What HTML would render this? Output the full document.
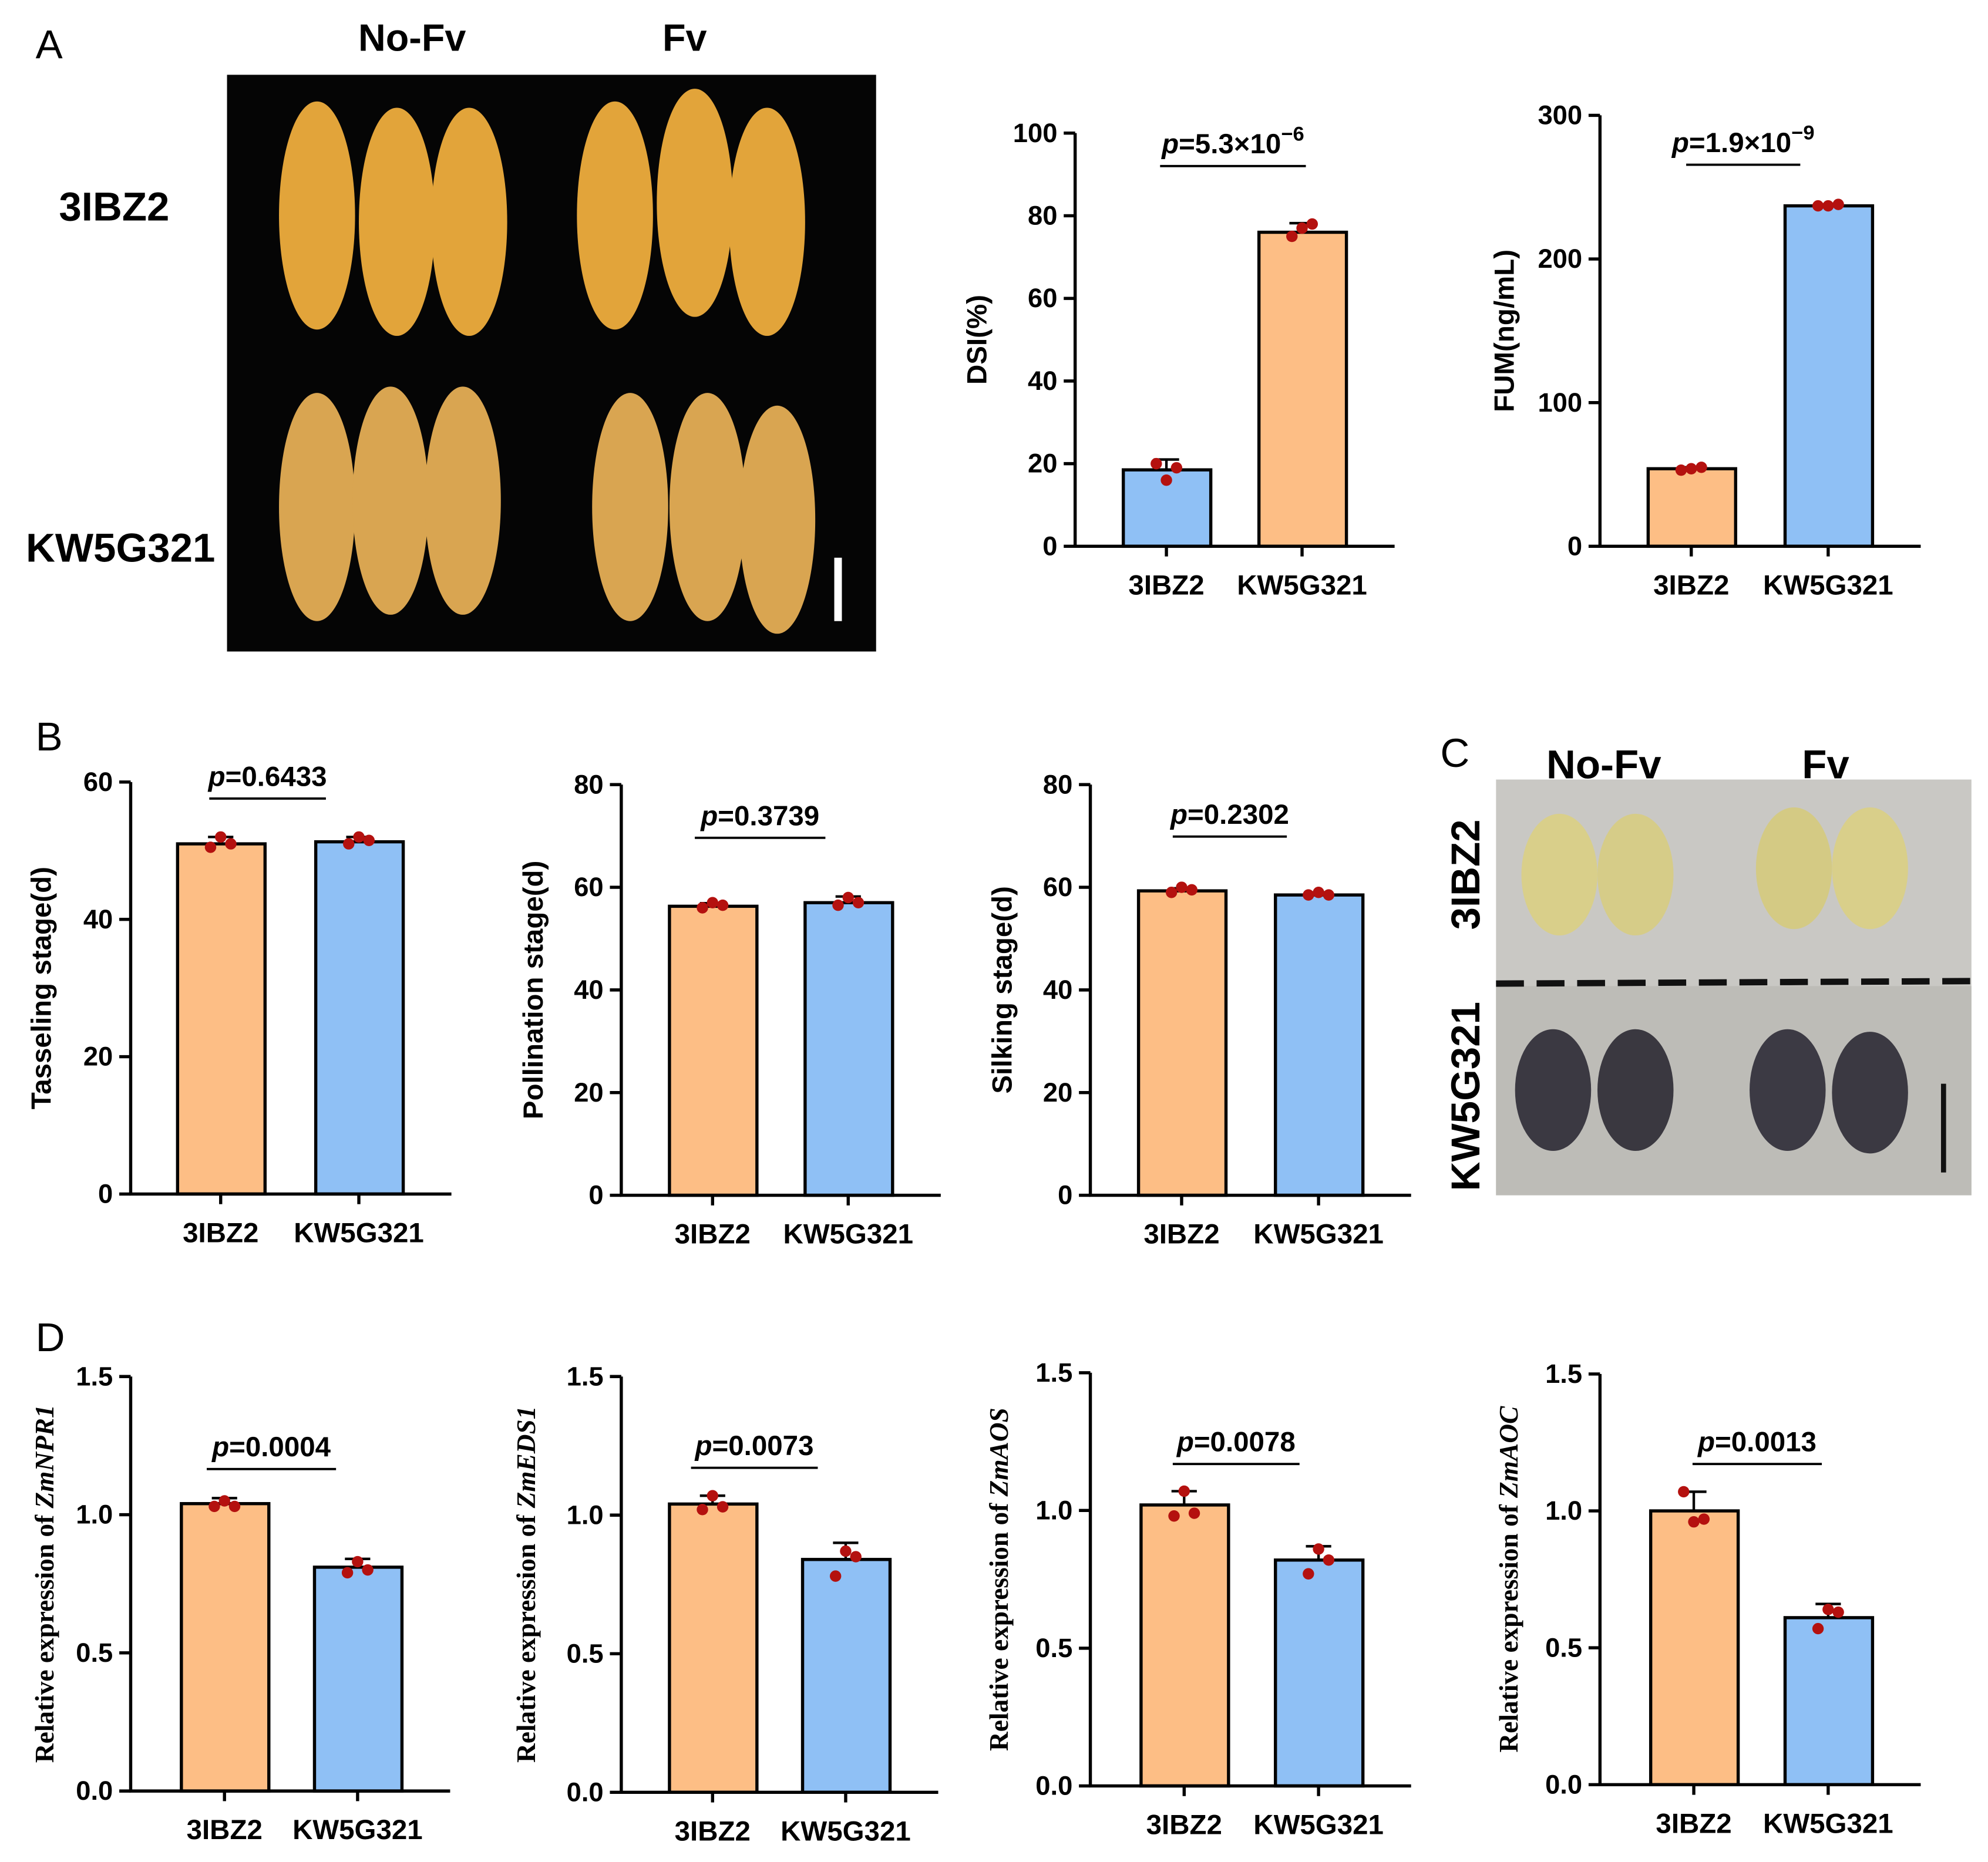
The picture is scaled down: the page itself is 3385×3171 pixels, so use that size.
<!DOCTYPE html>
<html><head><meta charset="utf-8"><style>
html,body{margin:0;padding:0;background:#fff}
svg{display:block}
text{font-family:"Liberation Sans",Arial,sans-serif;font-weight:bold;fill:#000}
.serif{font-family:"Liberation Serif","Times New Roman",serif}
</style></head><body>
<svg id="fig" width="3385" height="3171" viewBox="0 0 1568 1469" xmlns="http://www.w3.org/2000/svg">
<g id="photoA">
<rect x="179" y="59" width="512" height="455" fill="#050505"/>
</g>
<g id="photoC">
<rect x="1180" y="615" width="375" height="328" fill="#c9c8c4"/>
<rect x="1180" y="778" width="375" height="165" fill="#bdbcb7"/>
<line x1="1180" y1="776" x2="1558" y2="774" stroke="#111" stroke-width="5" stroke-dasharray="22,10"/>
<rect x="1531" y="855" width="4" height="70" fill="#111"/>
</g>
<g id="labels">
<text x="28" y="46" font-size="32" style="font-weight:normal">A</text>
<text x="28" y="592" font-size="32" style="font-weight:normal">B</text>
<text x="1136" y="605" font-size="32" style="font-weight:normal">C</text>
<text x="28" y="1066" font-size="32" style="font-weight:normal">D</text>
<text x="325" y="40" font-size="30" text-anchor="middle">No-Fv</text>
<text x="540" y="40" font-size="30" text-anchor="middle">Fv</text>
<text x="90" y="174" font-size="32" text-anchor="middle">3IBZ2</text>
<text x="95" y="443" font-size="32" text-anchor="middle">KW5G321</text>
<text x="1265" y="614" font-size="32" text-anchor="middle">No-Fv</text>
<text x="1440" y="614" font-size="32" text-anchor="middle">Fv</text>
<text transform="translate(1167,690) rotate(-90)" font-size="32" text-anchor="middle">3IBZ2</text>
<text transform="translate(1167,865) rotate(-90)" font-size="32" text-anchor="middle">KW5G321</text>
</g>
</svg>
<script>
const NS="http://www.w3.org/2000/svg";
const svg=document.getElementById('fig');
function mk(tag,attrs,parent){const e=document.createElementNS(NS,tag);for(const k in attrs)e.setAttribute(k,attrs[k]);parent.appendChild(e);return e;}

const categories=["3IBZ2","KW5G321"];
// DSI
const dsiMeans=[18.5,76];const dsiErr=[2.5,2.2];const dsiPoints=[[20,16,19],[75,77,78]];const dsiTicks=[0,20,40,60,80,100];
// FUM
const fumMeans=[54,237];const fumErr=[1,1];const fumPoints=[[53,54,55],[237,237,238]];const fumTicks=[0,100,200,300];
// B
const tasMeans=[51,51.3];const tasErr=[1,0.7];const tasPoints=[[50.5,52,51],[51,52,51.5]];const tasTicks=[0,20,40,60];
const polMeans=[56.3,57];const polErr=[0.6,1.2];const polPoints=[[56,57,56.5],[56.5,58,57]];const bTicks=[0,20,40,60,80];
const silMeans=[59.3,58.5];const silErr=[0.5,0.5];const silPoints=[[59,60,59.5],[58.5,59,58.5]];
// D
const npr1Means=[1.04,0.81];const npr1Err=[0.02,0.03];const npr1Points=[[1.03,1.05,1.03],[0.79,0.83,0.8]];
const eds1Means=[1.04,0.84];const eds1Err=[0.03,0.06];const eds1Points=[[1.02,1.07,1.03],[0.78,0.87,0.85]];
const aosMeans=[1.02,0.82];const aosErr=[0.05,0.05];const aosPoints=[[0.98,1.07,0.99],[0.77,0.86,0.82]];
const aocMeans=[1.0,0.61];const aocErr=[0.07,0.05];const aocPoints=[[1.07,0.96,0.97],[0.57,0.64,0.63]];
const dTicks=[0,0.5,1.0,1.5];

const ORANGE="#fdbe85",BLUE="#8fc0f5";
function chart(o){
  const g=mk('g',{},svg);
  
  
  const max=o.ticks[o.ticks.length-1];
  const y=v=>o.y0-(v/max)*(o.y0-o.y1);
  const xc=i=>o.bx[i]+34;
  o.means.forEach((m,i)=>{
    const r=mk('rect',{x:o.bx[i],y:y(m),width:69,height:o.y0-y(m),fill:o.colors[i],stroke:'#000','stroke-width':2.5},g);
    
    
    const t=y(m+o.err[i]);
    const eb=mk('path',{d:`M${xc(i)},${y(m)}V${t}M${xc(i)-10},${t}H${xc(i)+10}`,stroke:'#000','stroke-width':2,fill:'none'},g);
    
    
    o.points[i].forEach((p,j)=>{
      const c=mk('circle',{cx:xc(i)+(j-1)*8,cy:y(p),r:4.5,fill:'#b4110f'},g);
      
      
    });
    const xl=mk('text',{x:xc(i),y:o.y0+38,'font-size':22,'text-anchor':'middle'},g);
    xl.textContent=categories[i];
    
    
    mk('line',{x1:xc(i),x2:xc(i),y1:o.y0,y2:o.y0+8,stroke:'#000','stroke-width':2.5},g);
  });
  mk('line',{x1:o.ax,x2:o.ax,y1:o.y1,y2:o.y0+1,stroke:'#000','stroke-width':2.5},g);
  mk('line',{x1:o.ax-1,x2:o.bx[1]+107,y1:o.y0,y2:o.y0,stroke:'#000','stroke-width':2.5},g);
  o.ticks.forEach(t=>{
    mk('line',{x1:o.ax-9,x2:o.ax,y1:y(t),y2:y(t),stroke:'#000','stroke-width':2.5},g);
    const tl=mk('text',{x:o.ax-14,y:y(t)+7,'font-size':21,'text-anchor':'end'},g);
    tl.textContent=o.fmt?o.fmt(t):t;
    
    
  });
  const yt=mk('text',{transform:`translate(${o.lx},${(o.y0+o.y1)/2}) rotate(-90)`,'font-size':o.serif?21:22,'text-anchor':'middle'},g);
  if(o.serif)yt.setAttribute('class','serif');
  yt.innerHTML=o.ylabel;
  
  
  mk('line',{x1:o.pb[0],x2:o.pb[1],y1:o.pb[2],y2:o.pb[2],stroke:'#000','stroke-width':1.8},g);
  const pt=mk('text',{x:(o.pb[0]+o.pb[1])/2,y:o.pb[2]-10,'font-size':22,'text-anchor':'middle'},g);
  pt.innerHTML=o.ptext;
  
  
}
const f1=t=>t.toFixed(1);
chart({name:'dsi-chart',ax:848,y0:431,y1:105,bx:[886,993],means:dsiMeans,err:dsiErr,points:dsiPoints,ticks:dsiTicks,colors:[BLUE,ORANGE],lx:778,ylabel:'DSI(%)',pb:[915,1030,131],ptext:'<tspan font-style="italic">p</tspan>=5.3×10<tspan dy="-10" font-size="16">−6</tspan>'});
chart({name:'fum-chart',ax:1262,y0:431,y1:91,bx:[1300,1408],means:fumMeans,err:fumErr,points:fumPoints,ticks:fumTicks,colors:[ORANGE,BLUE],lx:1194,ylabel:'FUM(ng/mL)',pb:[1330,1420,130],ptext:'<tspan font-style="italic">p</tspan>=1.9×10<tspan dy="-10" font-size="16">−9</tspan>'});
chart({name:'tasseling-chart',ax:103,y0:942,y1:617,bx:[140,249],means:tasMeans,err:tasErr,points:tasPoints,ticks:tasTicks,colors:[ORANGE,BLUE],lx:40,ylabel:'Tasseling stage(d)',pb:[165,257,630],ptext:'<tspan font-style="italic">p</tspan>=0.6433'});
chart({name:'pollination-chart',ax:490,y0:943,y1:619,bx:[528,635],means:polMeans,err:polErr,points:polPoints,ticks:bTicks,colors:[ORANGE,BLUE],lx:428,ylabel:'Pollination stage(d)',pb:[548,651,661],ptext:'<tspan font-style="italic">p</tspan>=0.3739'});
chart({name:'silking-chart',ax:860,y0:943,y1:619,bx:[898,1006],means:silMeans,err:silErr,points:silPoints,ticks:bTicks,colors:[ORANGE,BLUE],lx:798,ylabel:'Silking stage(d)',pb:[925,1015,660],ptext:'<tspan font-style="italic">p</tspan>=0.2302'});
chart({name:'zmnpr1-chart',ax:103,y0:1413,y1:1086,bx:[143,248],means:npr1Means,err:npr1Err,points:npr1Points,ticks:dTicks,fmt:f1,colors:[ORANGE,BLUE],lx:42,serif:1,ylabel:'Relative expression of <tspan font-style="italic">ZmNPR1</tspan>',pb:[163,265,1159],ptext:'<tspan font-style="italic">p</tspan>=0.0004'});
chart({name:'zmeds1-chart',ax:490,y0:1414,y1:1086,bx:[528,633],means:eds1Means,err:eds1Err,points:eds1Points,ticks:dTicks,fmt:f1,colors:[ORANGE,BLUE],lx:422,serif:1,ylabel:'Relative expression of <tspan font-style="italic">ZmEDS1</tspan>',pb:[545,645,1158],ptext:'<tspan font-style="italic">p</tspan>=0.0073'});
chart({name:'zmaos-chart',ax:860,y0:1409,y1:1083,bx:[900,1006],means:aosMeans,err:aosErr,points:aosPoints,ticks:dTicks,fmt:f1,colors:[ORANGE,BLUE],lx:795,serif:1,ylabel:'Relative expression of <tspan font-style="italic">ZmAOS</tspan>',pb:[925,1025,1155],ptext:'<tspan font-style="italic">p</tspan>=0.0078'});
chart({name:'zmaoc-chart',ax:1262,y0:1408,y1:1084,bx:[1302,1408],means:aocMeans,err:aocErr,points:aocPoints,ticks:dTicks,fmt:f1,colors:[ORANGE,BLUE],lx:1197,serif:1,ylabel:'Relative expression of <tspan font-style="italic">ZmAOC</tspan>',pb:[1335,1437,1155],ptext:'<tspan font-style="italic">p</tspan>=0.0013'});

// corn ears (decorative photo)
const pa=document.getElementById('photoA');
const ears=[[250,170,true],[313,175,true],[370,175,true],[485,170,true],[548,160,true],[605,175,true],[250,400,false],[308,395,false],[365,395,false],[497,400,false],[558,400,false],[613,410,false]];
ears.forEach(e=>{
  const el=mk('ellipse',{cx:e[0],cy:e[1],rx:30,ry:90,fill:e[2]?'#e2a43a':'#d9a551'},pa);
  
  
});
mk('rect',{x:658,y:440,width:6,height:50,fill:'#fff'},pa);
const pc=document.getElementById('photoC');
[[1230,690,'#d9cf8a'],[1290,690,'#d6cc88'],[1415,685,'#d4ca84'],[1475,685,'#d9cf8a'],[1225,860,'#3b3942'],[1290,860,'#3a3840'],[1410,860,'#3c3a44'],[1475,862,'#3b3942']].forEach(k=>{
  const el=mk('ellipse',{cx:k[0],cy:k[1],rx:30,ry:48,fill:k[2]},pc);
  
  
});
</script>
</body></html>
